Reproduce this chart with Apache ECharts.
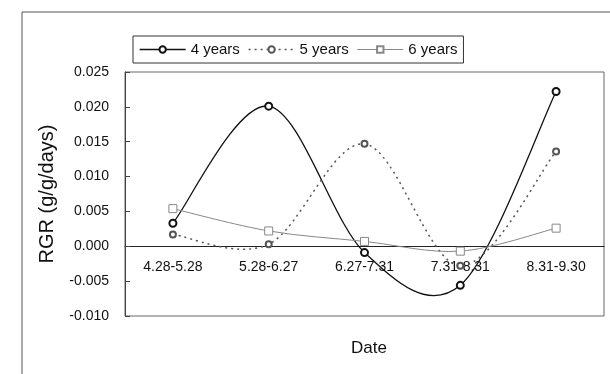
<!DOCTYPE html>
<html>
<head>
<meta charset="utf-8">
<script src="https://cdn.jsdelivr.net/npm/echarts@6/dist/echarts.min.js"></script>
<style>
  html, body { margin: 0; padding: 0; background: #fff; }
  #main { width: 610px; height: 374px; }
</style>
</head>
<body>
<div id="main"></div>
<script>
// 采样时段
var periods = ['4.28-5.28', '5.28-6.27', '6.27-7.31', '7.31-8.31', '8.31-9.30'];
// 各林龄 RGR
var rgr4 = [0.0033, 0.0201, -0.0009, -0.0056, 0.0222];
var rgr5 = [0.0017, 0.0003, 0.0147, -0.0028, 0.0136];
var rgr6 = [0.0054, 0.0022, 0.0007, -0.0007, 0.0026];
var yTicks = [-0.010, -0.005, 0.000, 0.005, 0.010, 0.015, 0.020, 0.025];

var font = 'Liberation Sans, Arial, sans-serif';
var gridTop = 72, gridBottom = 58, H = 374;
var yMin = yTicks[0], yMax = yTicks[yTicks.length - 1];
// x轴放到0刻度处（通过offset上移）
var plotH = H - gridTop - gridBottom;
var zeroOffset = -plotH * (0 - yMin) / (yMax - yMin);

var myChart = echarts.init(document.getElementById('main'));

// 类似Excel的平滑曲线：用相邻点算贝塞尔控制点
function smoothCurve(params, api) {
    if (params.dataIndexInside !== 0) return null;
    var n = params.dataInsideLength;
    var pts = [];
    for (var i = 0; i < n; i++) {
        pts.push(api.coord([api.value(0, i), api.value(1, i)]));
    }
    var d = 'M' + pts[0][0] + ' ' + pts[0][1];
    for (var k = 0; k < n - 1; k++) {
        var p0 = pts[k - 1] || pts[k];
        var p1 = pts[k];
        var p2 = pts[k + 1];
        var p3 = pts[k + 2] || pts[k + 1];
        var c1x = p1[0] + (p2[0] - p0[0]) / 6, c1y = p1[1] + (p2[1] - p0[1]) / 6;
        var c2x = p2[0] - (p3[0] - p1[0]) / 6, c2y = p2[1] - (p3[1] - p1[1]) / 6;
        d += ' C' + c1x + ' ' + c1y + ' ' + c2x + ' ' + c2y + ' ' + p2[0] + ' ' + p2[1];
    }
    return {
        type: 'path',
        shape: { pathData: d },
        style: api.style({ fill: null, stroke: api.visual('color') })
    };
}

function toPairs(arr) {
    return arr.map(function (v, i) { return [i, v]; });
}

var styles = {
    '4 years': { color: '#111', width: 1.3, type: 'solid' },
    '5 years': { color: '#555', width: 1.5, type: [2, 4] },
    '6 years': { color: '#888', width: 1, type: 'solid' }
};

function curveSeries(name, arr) {
    var s = styles[name];
    return {
        name: name,
        type: 'custom',
        renderItem: function (params, api) {
            var el = smoothCurve(params, api);
            if (el) {
                el.style.lineWidth = s.width;
                el.style.stroke = s.color;
                el.style.fill = null;
                if (s.type !== 'solid') el.style.lineDash = s.type;
            }
            return el;
        },
        itemStyle: { color: s.color },
        z: 1,
        silent: true,
        data: toPairs(arr)
    };
}

var option = {
    animation: false,
    backgroundColor: '#fff',
    textStyle: { fontFamily: font },
    title: {
        text: 'Date',
        left: 346,
        top: 335,
        textStyle: { fontFamily: font, fontSize: 17, fontWeight: 'normal', color: '#111' }
    },
    legend: {
        left: 133,
        top: 36,
        padding: [6, 6, 6, 6],
        itemGap: 8,
        itemWidth: 46,
        itemHeight: 8,
        borderColor: '#333',
        borderWidth: 1,
        textStyle: { fontFamily: font, fontSize: 15, color: '#111' },
        data: ['4 years', '5 years', '6 years'].map(function (nm) {
            var s = styles[nm];
            return { name: nm, lineStyle: { color: s.color, width: s.width, type: s.type, opacity: 1 } };
        })
    },
    grid: {
        left: 125, right: 6, top: gridTop, bottom: gridBottom,
        show: true,
        borderColor: '#666',
        borderWidth: 1
    },
    xAxis: {
        type: 'category',
        data: periods,
        offset: zeroOffset,
        axisLine: { onZero: false, lineStyle: { color: '#222', width: 1 } },
        axisTick: { inside: true, length: 5, lineStyle: { color: '#222' } },
        axisLabel: { margin: 14, fontSize: 14, color: '#111', fontFamily: font }
    },
    yAxis: {
        type: 'value',
        min: yMin,
        max: yMax,
        interval: 0.005,
        name: 'RGR (g/g/days)',
        nameLocation: 'middle',
        nameGap: 68,
        nameTextStyle: { fontSize: 20, color: '#111', fontFamily: font },
        splitLine: { show: false },
        axisLine: { show: true, lineStyle: { color: '#444' } },
        axisTick: { show: true, inside: true, length: 5, lineStyle: { color: '#444' } },
        axisLabel: {
            margin: 16,
            fontSize: 14,
            color: '#111',
            fontFamily: font,
            formatter: function (v) { return v.toFixed(3); }
        }
    },
    series: [
        {
            name: '4 years',
            type: 'line',
            data: rgr4,
            symbol: 'emptyCircle',
            symbolSize: 7,
            lineStyle: { color: '#111', width: 1.3, opacity: 0 },
            itemStyle: { color: '#111', borderWidth: 1.3 },
            z: 3
        },
        {
            name: '5 years',
            type: 'line',
            data: rgr5,
            symbol: 'emptyCircle',
            symbolSize: 6,
            lineStyle: { color: '#555', width: 1.5, type: [2, 4], opacity: 0 },
            itemStyle: { color: '#555', borderWidth: 1 },
            z: 3
        },
        {
            name: '6 years',
            type: 'line',
            data: rgr6,
            symbol: 'rect',
            symbolSize: 8,
            lineStyle: { color: '#888', width: 1, opacity: 0 },
            itemStyle: { color: '#fff', borderColor: '#888', borderWidth: 1 },
            z: 3
        },
        curveSeries('4 years', rgr4),
        curveSeries('5 years', rgr5),
        curveSeries('6 years', rgr6)
    ],
    graphic: [
        { type: 'line', shape: { x1: 22, y1: 12, x2: 610, y2: 12 }, style: { stroke: '#555', lineWidth: 1 } },
        { type: 'line', shape: { x1: 22, y1: 12, x2: 22, y2: 374 }, style: { stroke: '#555', lineWidth: 1 } }
    ]
};

myChart.setOption(option);
</script>
</body>
</html>
